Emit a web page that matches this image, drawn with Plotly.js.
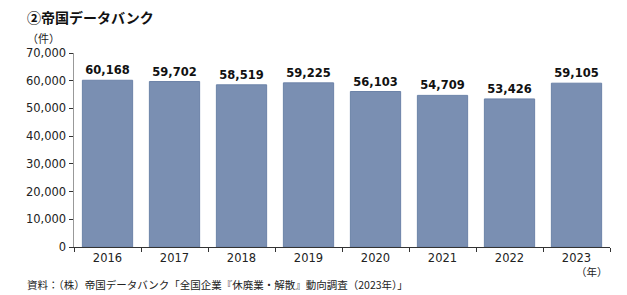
<!DOCTYPE html>
<html>
<head>
<meta charset="utf-8">
<script src="https://cdn.plot.ly/plotly-3.0.1.min.js"></script>
<style>
html,body{margin:0;padding:0;background:#fff;}
#chart{width:627px;height:295px;}
</style>
</head>
<body>
<div id="chart"></div>
<script>
const years = ['2016','2017','2018','2019','2020','2021','2022','2023'];
const counts = [60168, 59702, 58519, 59225, 56103, 54709, 53426, 59105];
const yTickVals = [0,10000,20000,30000,40000,50000,60000,70000];
const yTickText = ['0','10,000','20,000','30,000','40,000','50,000','60,000','70,000'];
const titleText = '②帝国データバンク';
const unitY = '（件）';
const unitX = '（年）';
const sourceText = '資料：（株）帝国データバンク「全国企業『休廃業・解散』動向調査（2023年）」';

const numFont = 'DejaVu Sans, Verdana, sans-serif';
const jpFont = 'Noto Sans CJK JP, sans-serif';

const trace = {
  type: 'bar',
  x: years,
  y: counts,
  marker: {color: '#7A8FB2', line: {color: '#6C83A8', width: 1}},
  width: 0.75,
  texttemplate: '%{y:,}',
  textposition: 'outside',
  cliponaxis: false,
  textfont: {family: numFont, size: 11.5, color: '#111', weight: 'bold'},
  hoverinfo: 'none'
};

const layout = {
  width: 627, height: 295,
  margin: {l: 74, r: 17, t: 53, b: 48},
  paper_bgcolor: '#fff', plot_bgcolor: '#fff',
  showlegend: false,
  bargap: 0.25,
  font: {family: numFont, color: '#222'},
  xaxis: {
    type: 'category',
    showgrid: false, zeroline: false,
    showline: true, linecolor: '#333', linewidth: 1,
    ticks: 'outside', tickson: 'boundaries', ticklen: 4, tickcolor: '#333',
    tickfont: {family: numFont, size: 11.5, color: '#222'}
  },
  yaxis: {
    range: [0, 70000],
    tickvals: yTickVals, ticktext: yTickText,
    showgrid: false, zeroline: false,
    showline: true, linecolor: '#999', linewidth: 1.5,
    ticks: 'outside', ticklen: 4, tickcolor: '#333',
    tickfont: {family: numFont, size: 11.5, color: '#222'}
  },
  annotations: [
    {text: '<b>' + titleText + '</b>', xref: 'paper', yref: 'paper', x: -74/536, y: 1 + (53-17)/194,
     xanchor: 'left', yanchor: 'middle', showarrow: false,
     font: {family: jpFont, size: 14, color: '#111'}, xshift: 25},
    {text: unitY, xref: 'paper', yref: 'paper', x: -74/536, y: 1 + (53-38)/194,
     xanchor: 'left', yanchor: 'middle', showarrow: false,
     font: {family: jpFont, size: 11, color: '#222'}, xshift: 25},
    {text: unitX, xref: 'paper', yref: 'paper', x: 1, y: -(271-247)/194,
     xanchor: 'right', yanchor: 'middle', showarrow: false,
     font: {family: jpFont, size: 10.5, color: '#222'}},
    {text: sourceText, xref: 'paper', yref: 'paper', x: -74/536, y: -(284-247)/194,
     xanchor: 'left', yanchor: 'middle', showarrow: false,
     font: {family: jpFont, size: 10.5, color: '#222'}, xshift: 25}
  ]
};

Plotly.newPlot('chart', [trace], layout, {displayModeBar: false, staticPlot: true});
</script>
</body>
</html>
